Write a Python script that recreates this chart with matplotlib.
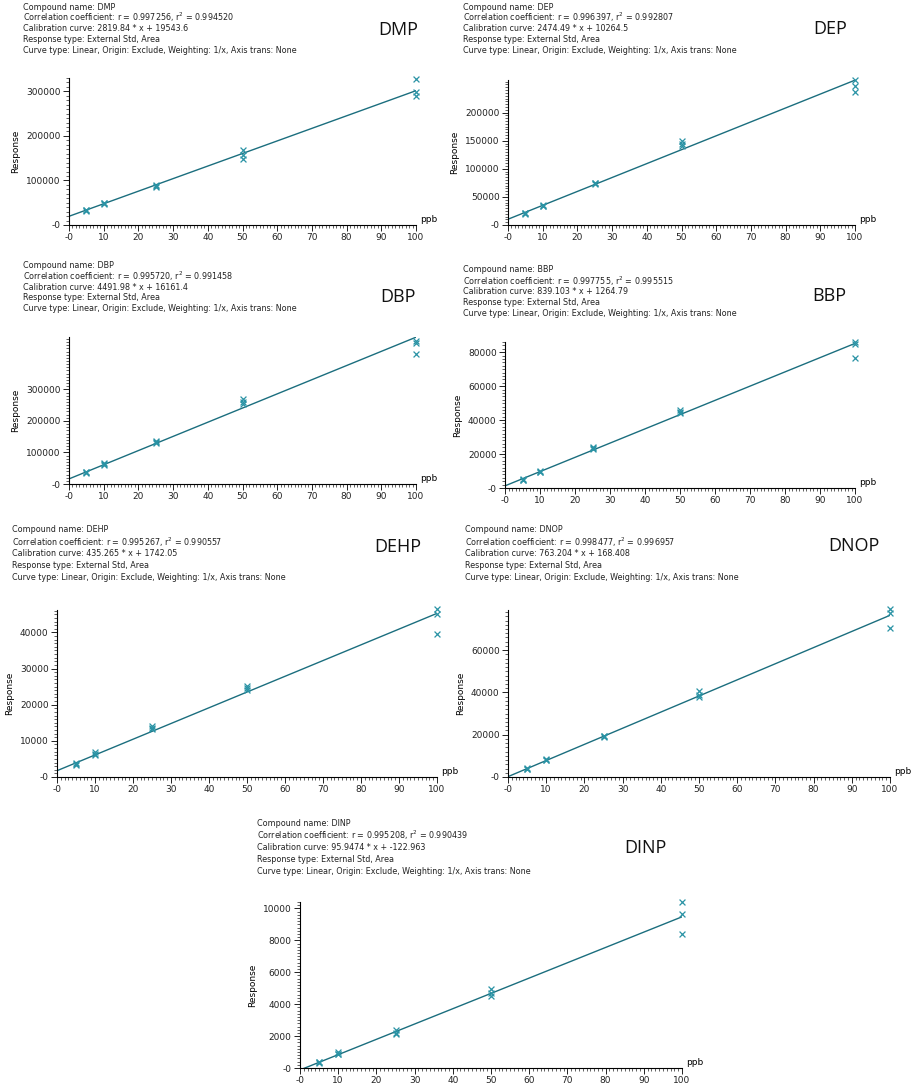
import numpy as np
import matplotlib.pyplot as plt
from matplotlib.ticker import FuncFormatter, MultipleLocator, AutoMinorLocator

# concentratie niveaus (ppb)
conc = [5, 5, 5, 10, 10, 10, 25, 25, 25, 50, 50, 50, 100, 100, 100]

# response waarden per stof
dmp_resp = [33000, 31000, 34500, 47000, 48500, 49500, 88000, 85000, 90000, 168000, 158000, 149000, 328000, 298000, 290000]
dep_resp = [22000, 20000, 21000, 34000, 35500, 33000, 74000, 73000, 75000, 150000, 144000, 140000, 258000, 247000, 236000]
dbp_resp = [36000, 37000, 38000, 62000, 60000, 65000, 132000, 130000, 135000, 268000, 260000, 255000, 452000, 448000, 413000]
bbp_resp = [5300, 5000, 4800, 9500, 9800, 9700, 24100, 23200, 23500, 46100, 44600, 44000, 85800, 84800, 76700]
dehp_resp = [3500, 3200, 3900, 6500, 6000, 6800, 14000, 13500, 13200, 25200, 24500, 24000, 46500, 45200, 39500]
dnop_resp = [4000, 3700, 4200, 8200, 7900, 8600, 19500, 18800, 19200, 40600, 37900, 39000, 79700, 77600, 70600]
dinp_resp = [400, 300, 350, 1000, 900, 850, 2400, 2200, 2100, 4920, 4500, 4700, 10400, 9670, 8420]

# helling en intercept van de kalibratielijn
slopes = [2819.84, 2474.49, 4491.98, 839.103, 435.265, 763.204, 95.9474]
intercepts = [19543.6, 10264.5, 16161.4, 1264.79, 1742.05, 168.408, -122.963]
names = ['DMP', 'DEP', 'DBP', 'BBP', 'DEHP', 'DNOP', 'DINP']
r_vals = ['0.997256', '0.996397', '0.995720', '0.997755', '0.995267', '0.998477', '0.995208']
r2_vals = ['0.994520', '0.992807', '0.991458', '0.995515', '0.990557', '0.996957', '0.990439']
curve_txt = ['2819.84 * x + 19543.6', '2474.49 * x + 10264.5', '4491.98 * x + 16161.4',
             '839.103 * x + 1264.79', '435.265 * x + 1742.05', '763.204 * x + 168.408',
             '95.9474 * x + -122.963']
y_tops = [330000, 258000, 466000, 86000, 46200, 79000, 10400]
y_steps = [100000, 50000, 100000, 20000, 10000, 20000, 2000]
y_maxlabel = [300000, 200000, 300000, 80000, 40000, 60000, 10000]
responses = [dmp_resp, dep_resp, dbp_resp, bbp_resp, dehp_resp, dnop_resp, dinp_resp]

W, H = 917, 1092
# (x_links, x_rechts, y_boven, y_onder) van de assen in pixels
ax_box = [(69, 416, 78, 225), (508, 855, 80, 225), (69, 416, 337, 484), (505, 855, 342, 488),
          (57, 437, 610, 777), (508, 890, 610, 777), (300, 682, 902, 1068)]
# positie van het tekstblok (x, y eerste regel, regelafstand, fontsize)
txt_pos = [(23, 7, 10.8, 5.8), (463, 7, 10.8, 5.8), (23, 266, 10.6, 5.8), (463, 270, 10.8, 5.8),
           (12, 530, 12.0, 5.8), (465, 530, 12.0, 5.8), (257, 823, 12.0, 5.8)]
# positie van de grote naam
name_pos = [(398, 30), (830, 29), (398, 297), (829, 296), (398, 547), (854, 546), (645, 848)]

line_col = '#1b6e7e'
mark_col = '#2a93a5'

fig = plt.figure(figsize=(W / 100, H / 100), dpi=100)

def fmt(v, p):
    if abs(v) < 1e-9:
        return '-0'
    return '%d' % v

for i in range(7):
    x0, x1, yt, yb = ax_box[i]
    ax = fig.add_axes([x0 / W, 1 - yb / H, (x1 - x0) / W, (yb - yt) / H])
    tx, ty, dy, fs = txt_pos[i]
    lines = ['Compound name: ' + names[i],
             'Correlation coefficient: r = ' + r_vals[i] + ', r$^2$ = ' + r2_vals[i],
             'Calibration curve: ' + curve_txt[i],
             'Response type: External Std, Area',
             'Curve type: Linear, Origin: Exclude, Weighting: 1/x, Axis trans: None']
    for k, s in enumerate(lines):
        fig.text(tx / W, 1 - (ty + k * dy) / H, s, fontsize=fs, va='center', ha='left', color='#222222')
    nx, ny = name_pos[i]
    fig.text(nx / W, 1 - ny / H, names[i], fontsize=13, ha='center', va='center',
             family='Open Sans', color='#111111')

    xl = np.array([0, 100])
    ax.plot(xl, slopes[i] * xl + intercepts[i], color=line_col, lw=1.0)
    ax.scatter(conc, responses[i], marker='x', s=18, color=mark_col, lw=0.9, clip_on=False, zorder=3)

    ax.set_xlim(0, 100)
    ax.set_ylim(0, y_tops[i])
    ax.xaxis.set_major_locator(MultipleLocator(10))
    ax.xaxis.set_minor_locator(MultipleLocator(1))
    ax.set_yticks(np.arange(0, y_maxlabel[i] + 1, y_steps[i]))
    ax.yaxis.set_minor_locator(AutoMinorLocator(10))
    ax.xaxis.set_major_formatter(FuncFormatter(fmt))
    ax.yaxis.set_major_formatter(FuncFormatter(fmt))
    ax.tick_params(which='major', length=4, width=0.7, labelsize=6.5, pad=2, colors='#222222')
    ax.tick_params(which='minor', length=2.5, width=0.5, colors='#222222')
    for sp in ['top', 'right']:
        ax.spines[sp].set_visible(False)
    ax.spines['left'].set_linewidth(0.8)
    ax.spines['bottom'].set_linewidth(0.8)
    ax.set_ylabel('Response', fontsize=6.5, labelpad=4)
    ax.annotate('ppb', xy=(1, 0), xycoords='axes fraction', xytext=(3, 1),
                textcoords='offset points', fontsize=6.5, ha='left', va='bottom')

fig.savefig('out.png', dpi=100)
